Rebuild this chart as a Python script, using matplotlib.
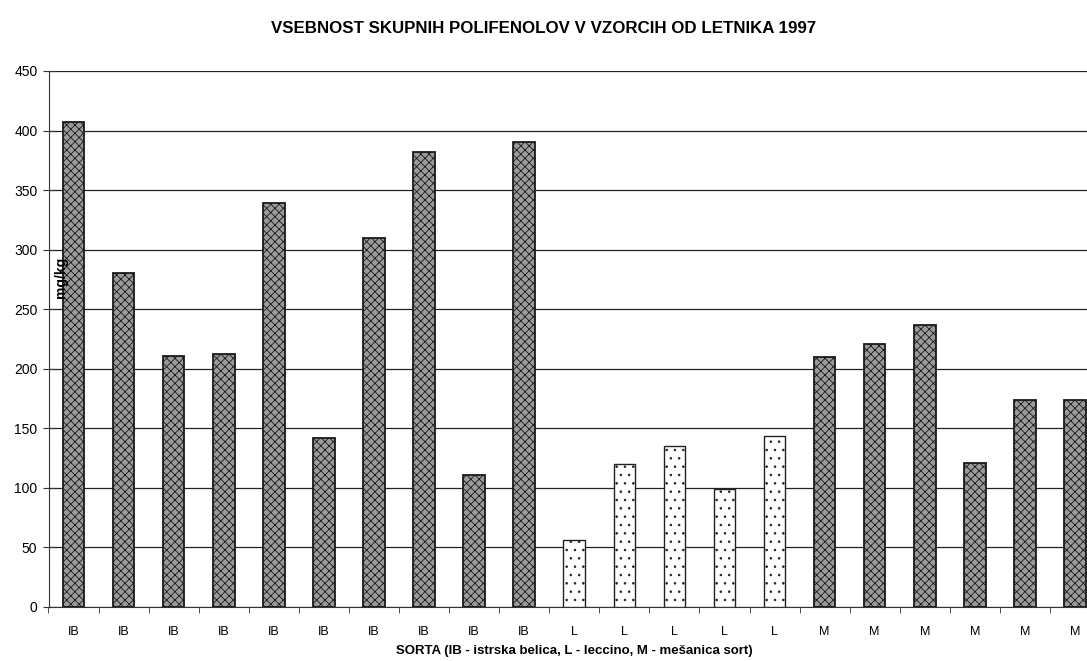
import numpy as np
import matplotlib
matplotlib.use("Agg")
import matplotlib.pyplot as plt

plt.rcParams['font.family'] = ['Liberation Sans', 'DejaVu Sans']
plt.rcParams['hatch.linewidth'] = 0.6

# Total polyphenol content per sample (mg/kg), harvest 1997
labels_ib = ["IB"] * 10
labels_l = ["L"] * 5
labels_m = ["M"] * 6
values_ib = [407, 280, 211, 212, 339, 142, 310, 382, 111, 390]
values_l = [56, 120, 135, 99, 143]
values_m = [210, 221, 237, 121, 174, 174]

labels = labels_ib + labels_l + labels_m
values = values_ib + values_l + values_m
yticks = [0, 50, 100, 150, 200, 250, 300, 350, 400, 450]

fig = plt.figure(figsize=(10.87, 6.61), dpi=100)
ax = fig.add_axes([48.5 / 1087, 54.3 / 661, 1051.5 / 1087, 535.7 / 661])

x = np.arange(len(labels))
width = 0.43

for xi, v, lab in zip(x, values, labels):
    if lab == "L":
        ax.bar(xi, v, width=width, facecolor="white", edgecolor="#222222",
               hatch="..", linewidth=1.0, zorder=3)
    else:
        ax.bar(xi, v, width=width, facecolor="#9a9a9a", edgecolor="#1a1a1a",
               hatch="xxxx", linewidth=1.3, zorder=3)

ax.set_xlim(-0.5, len(labels) - 0.5)
ax.set_ylim(0, 450)
ax.set_yticks(yticks)
ax.yaxis.grid(True, color="#222222", linewidth=0.9, zorder=0)
ax.set_axisbelow(True)

for side in ("top", "right"):
    ax.spines[side].set_visible(False)
ax.spines["left"].set_color("#333333")
ax.spines["bottom"].set_color("#333333")

ax.set_xticks(x)
ax.set_xticklabels(labels, fontsize=9)
ax.set_xticks(np.arange(-0.5, len(labels) + 0.5, 1.0), minor=True)
ax.tick_params(axis="x", which="major", length=0, pad=14)
ax.tick_params(axis="x", which="minor", length=4, direction="out", color="#333333")
ax.tick_params(axis="y", which="major", length=8, direction="inout", labelsize=10,
               color="#333333", pad=4)

ax.set_xlabel("SORTA (IB - istrska belica, L - leccino, M - mešanica sort)",
              fontsize=9.5, fontweight="bold", labelpad=5)
ax.text(0.012, 0.615, "mg/kg", transform=ax.transAxes, rotation=90,
        fontsize=10, fontweight="bold", ha="center", va="center")

fig.suptitle("VSEBNOST SKUPNIH POLIFENOLOV V VZORCIH OD LETNIKA 1997",
             x=0.5, y=0.968, fontsize=12.2, fontweight="bold")

fig.savefig("out.png", dpi=100)
